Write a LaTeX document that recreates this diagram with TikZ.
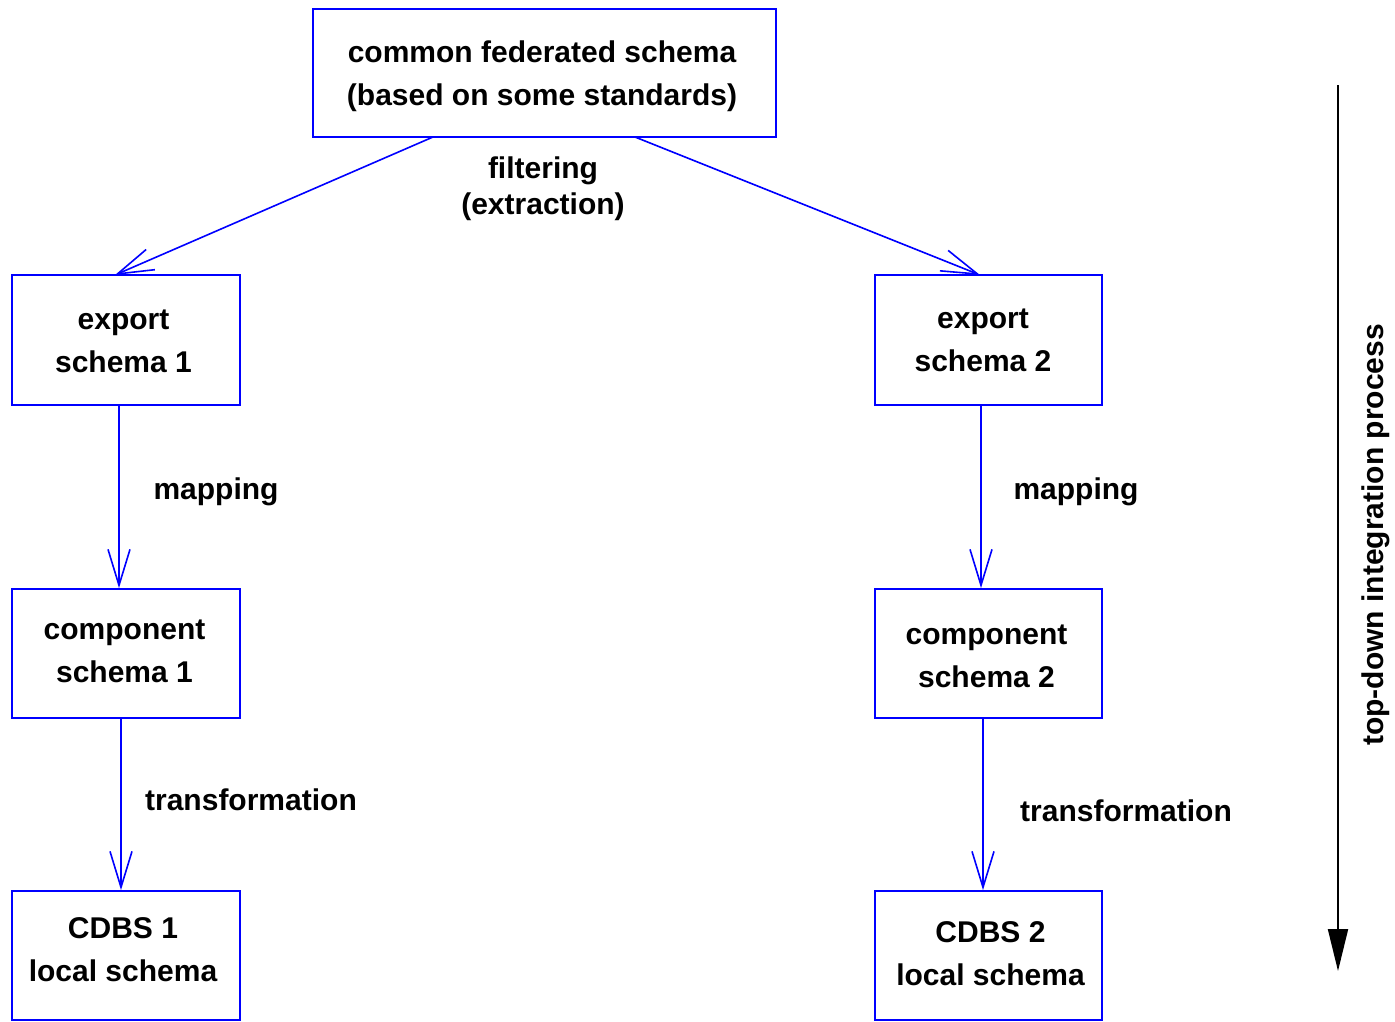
\documentclass[tikz,border=0pt]{standalone}
\usepackage{fontspec}
\setmainfont{Liberation Sans}
\usetikzlibrary{arrows.meta}
\begin{document}
\begin{tikzpicture}[x=1pt,y=-1pt,
  every node/.style={font=\fontsize{30}{43}\selectfont\bfseries, align=center, inner sep=0pt},
  box/.style={draw=blue, line width=1.8pt, rectangle},
  conn/.style={draw=blue, line width=1.6pt, -{Straight Barb[length=36pt,width=22pt,line width=1.6pt]}},
  lbl/.style={text=black}]
\useasboundingbox (0,0) rectangle (1395,1021);
\node[box, minimum width=463pt, minimum height=128pt] (top) at (544.5,73) {};
\node[box, minimum width=228pt, minimum height=130pt] (ex1) at (126,340) {};
\node[box, minimum width=227pt, minimum height=130pt] (ex2) at (988.5,340) {};
\node[box, minimum width=228pt, minimum height=129pt] (co1) at (126,653.5) {};
\node[box, minimum width=227pt, minimum height=129pt] (co2) at (988.5,653.5) {};
\node[box, minimum width=228pt, minimum height=129pt] (cd1) at (126,955.5) {};
\node[box, minimum width=227pt, minimum height=129pt] (cd2) at (988.5,955.5) {};
\node (topt) at (542,76) {common federated schema\\(based on some standards)};
\node (ex1t) at (123.5,341.5) {export\\schema 1};
\node (ex2t) at (983,340) {export\\schema 2};
\node (co1t) at (124.5,651.5) {component\\schema 1};
\node (co2t) at (986.5,656) {component\\schema 2};
\node (cd1t) at (123,950) {CDBS 1\\local schema};
\node (cd2t) at (990.5,954) {CDBS 2\\local schema};
\coordinate (t1) at (433,137);
\coordinate (t2) at (635,137);
\draw[conn] (t1) -- (115,275);
\draw[conn] (t2) -- (980,275);
\draw[conn] (ex1.south -| 119,0) -- (co1.north -| 119,0);
\draw[conn] (ex2.south -| 981,0) -- (co2.north -| 981,0);
\draw[conn] (co1.south -| 121,0) -- (cd1.north -| 121,0);
\draw[conn] (co2.south -| 983,0) -- (cd2.north -| 983,0);
\node[lbl, font=\fontsize{30}{36}\selectfont\bfseries] (lf) at (543,189) {filtering\\(extraction)};
\node[lbl] (m1) at (216,492) {mapping};
\node[lbl] (m2) at (1076,492) {mapping};
\node[lbl] (tr1) at (251,800) {transformation};
\node[lbl] (tr2) at (1126,811) {transformation};
\coordinate (pa) at (1338,85);
\coordinate (pb) at (1338,971);
\draw[line width=2pt, -{Triangle[length=42pt,width=20pt]}] (pa) -- (pb);
\node[rotate=90] (proc) at (1376,535) {top-down integration process};
\end{tikzpicture}
\end{document}
